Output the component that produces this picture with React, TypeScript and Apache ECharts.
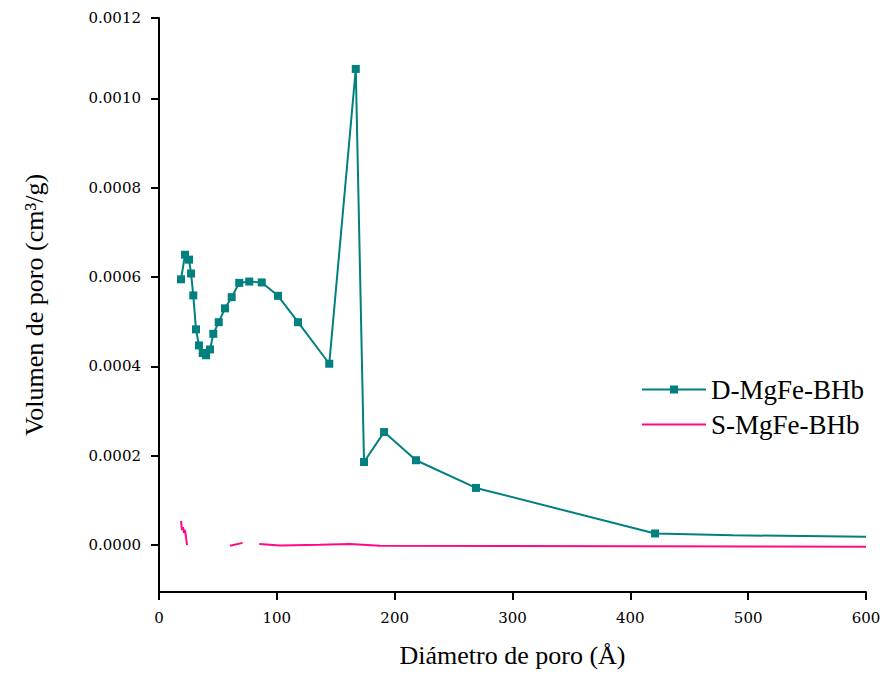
import React, { useEffect, useRef } from "react";
import * as echarts from "echarts";

const dX = [18.7, 22.1, 25.5, 27.2, 29.1, 31.4, 33.9, 37.1, 39.9, 43.3, 46.1, 50.7, 56.0, 61.7, 68.1, 76.6, 87.2, 101.0, 118.0, 144.5, 167.0, 174.0, 191.0, 218.1, 269.0, 421.0, 487.0, 600.0];
const dY = [0.000595, 0.00065, 0.000639, 0.000608, 0.000559, 0.000483, 0.000447, 0.00043, 0.000425, 0.000438, 0.000473, 0.000499, 0.00053, 0.000555, 0.000587, 0.00059, 0.000588, 0.000558, 0.000499, 0.000406, 0.001066, 0.000186, 0.000253, 0.00019, 0.000128, 0.000026, 0.000022, 0.0000186];
// points after 421 Å are drawn without markers in the reference
const dMarked = 26;

const sX = [18.7, 19.5, 20.4, 21.2, 22.1, 23.8, 40, 60.3, 71.0, 78, 85.1, 102.7, 136.6, 162.0, 187.6, 600.0];
const sY: (number | null)[] = [0.000054, 0.000034, 0.00004, 0.000027, 0.000034, 0.0, null, -0.0000016, 0.000005, null, 0.0000022, -0.0000007, 0.0000007, 0.0000022, -0.0000016, -0.0000038];

const yTickValues = [0, 0.0002, 0.0004, 0.0006, 0.0008, 0.001, 0.00118];
const yTickLabels = ["0.0000", "0.0002", "0.0004", "0.0006", "0.0008", "0.0010", "0.0012"];

const TEAL = "#00807f";
const PINK = "#ff0a84";

export default function App() {
  const ref = useRef<HTMLDivElement>(null);
  useEffect(() => {
    if (!ref.current) return;
    const chart = echarts.init(ref.current, null, { renderer: "svg" });
    const dData = dX.map((x, i) =>
      i < dMarked ? [x, dY[i]] : { value: [x, dY[i]], symbol: "none" }
    );
    const sData = sX.map((x, i) => [x, sY[i] === null ? "-" : sY[i]]);
    const tickFont = { fontFamily: "DejaVu Serif", fontSize: 15, color: "#000" };
    const titleFont = { fontFamily: "Liberation Serif", fontSize: 26, color: "#000" };
    chart.setOption({
      animation: false,
      backgroundColor: "#fff",
      grid: { left: 159, right: 22, top: 18, bottom: 87, containLabel: false },
      legend: {
        orient: "vertical",
        left: 636,
        top: 371,
        itemWidth: 64,
        itemHeight: 10,
        itemGap: 8,
        textStyle: { fontFamily: "Liberation Serif", fontSize: 27, color: "#000" },
        data: [
          { name: "D-MgFe-BHb" },
          { name: "S-MgFe-BHb", itemStyle: { opacity: 0 } },
        ],
      },
      xAxis: {
        type: "value",
        min: 0,
        max: 600,
        interval: 100,
        name: "Diámetro de poro (Å)",
        nameLocation: "middle",
        nameGap: 50,
        nameTextStyle: titleFont,
        axisLine: { show: true, onZero: false, lineStyle: { color: "#000", width: 2 } },
        axisTick: { show: true, inside: false, length: 8, lineStyle: { color: "#000", width: 2 } },
        axisLabel: { ...tickFont, margin: 18 },
        splitLine: { show: false },
      },
      yAxis: {
        type: "value",
        min: -0.000105,
        max: 0.00118,
        name: "Volumen de poro (cm³/g)",
        nameLocation: "middle",
        nameGap: 112,
        nameTextStyle: titleFont,
        axisLine: { show: true, onZero: false, lineStyle: { color: "#000", width: 2 } },
        axisTick: {
          show: true,
          inside: false,
          length: 8,
          customValues: yTickValues,
          lineStyle: { color: "#000", width: 2 },
        },
        axisLabel: {
          ...tickFont,
          margin: 18,
          customValues: yTickValues,
          formatter: (v: number) => {
            let best = 0;
            for (let i = 0; i < yTickValues.length; i++) {
              if (Math.abs(yTickValues[i] - v) < Math.abs(yTickValues[best] - v)) best = i;
            }
            return yTickLabels[best];
          },
        },
        splitLine: { show: false },
      },
      series: [
        {
          name: "D-MgFe-BHb",
          type: "line",
          data: dData,
          symbol: "rect",
          symbolSize: 8,
          showSymbol: true,
          itemStyle: { color: TEAL },
          lineStyle: { color: TEAL, width: 2 },
          z: 3,
        },
        {
          name: "S-MgFe-BHb",
          type: "line",
          data: sData,
          symbol: "none",
          connectNulls: false,
          itemStyle: { color: PINK },
          lineStyle: { color: PINK, width: 2 },
          z: 2,
        },
      ],
    });
    return () => chart.dispose();
  }, []);
  return <div ref={ref} style={{ width: 888, height: 679, position: "absolute", left: 0, top: 0 }} />;
}
